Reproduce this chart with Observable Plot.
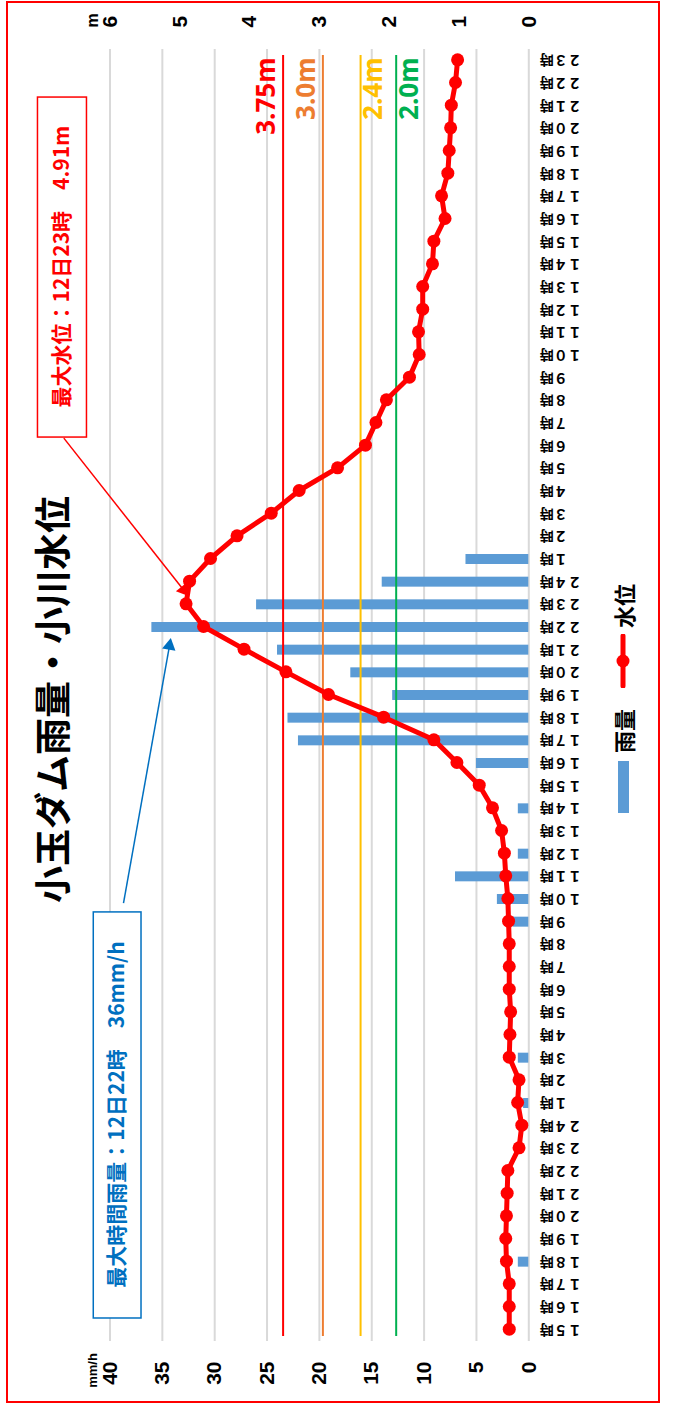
<!DOCTYPE html>
<html>
<head>
<meta charset="utf-8">
<script src="https://cdn.jsdelivr.net/npm/d3@7"></script>
<script src="https://cdn.jsdelivr.net/npm/@observablehq/plot@0.6"></script>
<style>
html, body { margin:0; padding:0; overflow:hidden; background:#fff; width:673px; height:1410px; }
#wrap { position:absolute; left:0; top:0; width:1410px; height:673px; transform-origin:0 0; transform: translateY(1410px) rotate(-90deg); background:#fff; }
#border { position:absolute; left:7px; top:6px; width:1402px; height:654px; border:2px solid #ff0000; box-sizing:border-box; }
#chart { position:absolute; left:0; top:0; }
#legend { position:absolute; left:597px; top:609px; height:28px; display:flex; align-items:center; font: bold 22px "Noto Sans CJK JP", sans-serif; color:#000; }
</style>
</head>
<body>
<div id="wrap">
  <div id="border"></div>
  <div id="chart"></div>
  <div id="legend">
    <span style="display:inline-block;width:52px;height:11px;background:#5b9bd5"></span>
    <span style="margin-left:8px">雨量</span>
    <svg width="54" height="28" style="margin-left:21px"><line x1="2" x2="52" y1="14" y2="14" stroke="#ff0000" stroke-width="5" stroke-linecap="round"/><circle cx="27" cy="14" r="6.5" fill="#ff0000"/></svg>
    <span style="margin-left:6px">水位</span>
  </div>
</div>
<script>
// ---- data ----
const timeLabels = [
  "１５時","１６時","１７時","１８時","１９時","２０時","２１時","２２時","２３時","２４時",
  "１時","２時","３時","４時","５時","６時","７時","８時","９時","１０時","１１時","１２時",
  "１３時","１４時","１５時","１６時","１７時","１８時","１９時","２０時","２１時","２２時","２３時","２４時",
  "１時","２時","３時","４時","５時","６時","７時","８時","９時","１０時","１１時","１２時",
  "１３時","１４時","１５時","１６時","１７時","１８時","１９時","２０時","２１時","２２時","２３時"
];
const rain = [
  0,0,0,1,0,0,0,0,0,0,
  0.5,0,1,0,0,0,0,0,1.5,3,7,1,0,1,0,5,22,23,13,17,24,36,26,14,
  6,0,0,0,0,0,0,0,0,0,0,0,0,0,0,0,0,0,0,0,0,0,0
];
const level = [
  0.28,0.28,0.28,0.32,0.33,0.32,0.31,0.30,0.14,0.10,
  0.16,0.14,0.28,0.27,0.26,0.28,0.28,0.28,0.29,0.30,0.33,0.35,0.39,0.52,0.71,1.03,1.36,2.08,2.87,3.48,4.08,4.66,4.91,4.86,
  4.56,4.18,3.69,3.29,2.74,2.34,2.19,2.04,1.71,1.57,1.58,1.52,1.52,1.38,1.36,1.20,1.25,1.16,1.14,1.12,1.11,1.05,1.02
];
const rainTicks = [0,5,10,15,20,25,30,35,40];
const levelTicks = [0,1,2,3,4,5,6];
const thresholdPos = [3.52, 2.95, 2.41, 1.90];
const thresholdLabels = ["3.75m","3.0m","2.4m","2.0m"];
const thresholdColors = ["#ff0000","#ed7d31","#ffc000","#00b050"];
const titleText = "小玉ダム雨量・小川水位";
const noteLevel = "最大水位：12日23時　4.91m";
const noteRain = "最大時間雨量：12日22時　36mm/h";

// ---- build ----
const M = 40 / 6; // metres -> rain axis units
const idx = d3.range(timeLabels.length);
const th = thresholdPos.map((p, i) => ({p, label: thresholdLabels[i], color: thresholdColors[i], above: i < 2}));
const NUM = "'Liberation Sans', Arial, sans-serif";
const JP = "'Noto Sans CJK JP', sans-serif";

// annotation geometry (data units: x = hour index, y = mm/h)
const boxes = [
  {x1: 39.38, x2: 54.38, y1: 42.2, y2: 46.88, color: "#ff0000"},
  {x1: 0.515, x2: 18.43, y1: 36.99, y2: 41.55, color: "#0070c0"}
];
const notes = [
  {x: 46.88, y: 44.54, text: noteLevel, color: "#ff0000"},
  {x: 9.47, y: 39.28, text: noteRain, color: "#0070c0"}
];
const arrows = [
  {x1: 39.31, y1: 44.41, x2: 32.61, y2: 32.97, rot: 231.7, color: "#ff0000"},
  {x1: 18.80, y1: 38.71, x2: 30.15, y2: 34.32, rot: 100.1, color: "#0070c0"}
];

const chart = Plot.plot({
  width: 1410, height: 673,
  marginLeft: 69, marginRight: 49, marginTop: 109.5, marginBottom: 144.7,
  x: {domain: [-0.5, 56.5], axis: null},
  y: {domain: [0, 40], axis: null},
  style: {background: "transparent", fontFamily: NUM, overflow: "visible"},
  marks: [
    Plot.ruleY(rainTicks, {stroke: "#d9d9d9", strokeWidth: 2}),
    Plot.rectY(idx, {x1: i => i - 0.22, x2: i => i + 0.22, y1: 0, y2: i => rain[i], fill: "#5b9bd5"}),
    Plot.ruleY(th, {y: d => d.p * M, stroke: d => d.color, strokeWidth: 2, insetLeft: 5, insetRight: 6}),
    Plot.text(th.filter(d => d.above), {y: d => d.p * M, text: "label", fill: d => d.color, frameAnchor: "right", textAnchor: "end", lineAnchor: "bottom", dx: -9, dy: -8, fontSize: 26, fontWeight: "bold", fontFamily: "'Noto Sans', sans-serif"}),
    Plot.text(th.filter(d => !d.above), {y: d => d.p * M, text: "label", fill: d => d.color, frameAnchor: "right", textAnchor: "end", lineAnchor: "top", dx: -9, dy: 3, fontSize: 26, fontWeight: "bold", fontFamily: "'Noto Sans', sans-serif"}),
    Plot.line(idx, {x: i => i, y: i => level[i] * M, stroke: "#ff0000", strokeWidth: 5}),
    Plot.dot(idx, {x: i => i, y: i => level[i] * M, r: 6.5, fill: "#ff0000"}),
    // x labels
    Plot.text(idx, {x: i => i, y: 0, text: i => timeLabels[i], rotate: -90, textAnchor: "end", lineAnchor: "middle", dy: 11, fontSize: 14, fontWeight: "bold", fontFamily: JP}),
    // left axis
    Plot.text(rainTicks, {y: d => d, text: d => String(d), frameAnchor: "left", textAnchor: "end", lineAnchor: "middle", dx: -21, fontSize: 21, fontWeight: "bold"}),
    Plot.text(["mm/h"], {frameAnchor: "top-left", textAnchor: "middle", lineAnchor: "bottom", dx: -30, dy: -13, fontSize: 13, fontWeight: "bold"}),
    // right axis
    Plot.text(levelTicks, {y: d => d * M, text: d => String(d), frameAnchor: "right", textAnchor: "start", lineAnchor: "middle", dx: 21, fontSize: 21, fontWeight: "bold"}),
    Plot.text(["m"], {frameAnchor: "top-right", textAnchor: "start", lineAnchor: "bottom", dx: 21, dy: -12, fontSize: 16, fontWeight: "bold"}),
    // title
    Plot.text([titleText], {frameAnchor: "top", textAnchor: "middle", lineAnchor: "middle", dx: -5, dy: -55, fontSize: 37, fontWeight: "bold", fontFamily: JP}),
    // annotations
    Plot.rect(boxes, {x1: "x1", x2: "x2", y1: "y1", y2: "y2", fill: "#fff", stroke: "color", strokeWidth: 1.5}),
    Plot.text(notes, {x: "x", y: "y", text: "text", fill: "color", textAnchor: "middle", lineAnchor: "middle", fontSize: 21, fontWeight: "bold", fontFamily: JP}),
    Plot.link(arrows, {x1: "x1", y1: "y1", x2: "x2", y2: "y2", stroke: "color", strokeWidth: 1.5}),
    Plot.dot(arrows, {x: "x2", y: "y2", symbol: "triangle", r: 5, rotate: "rot", fill: "color", stroke: "none"})
  ]
});
document.getElementById("chart").appendChild(chart);
</script>
</body>
</html>
